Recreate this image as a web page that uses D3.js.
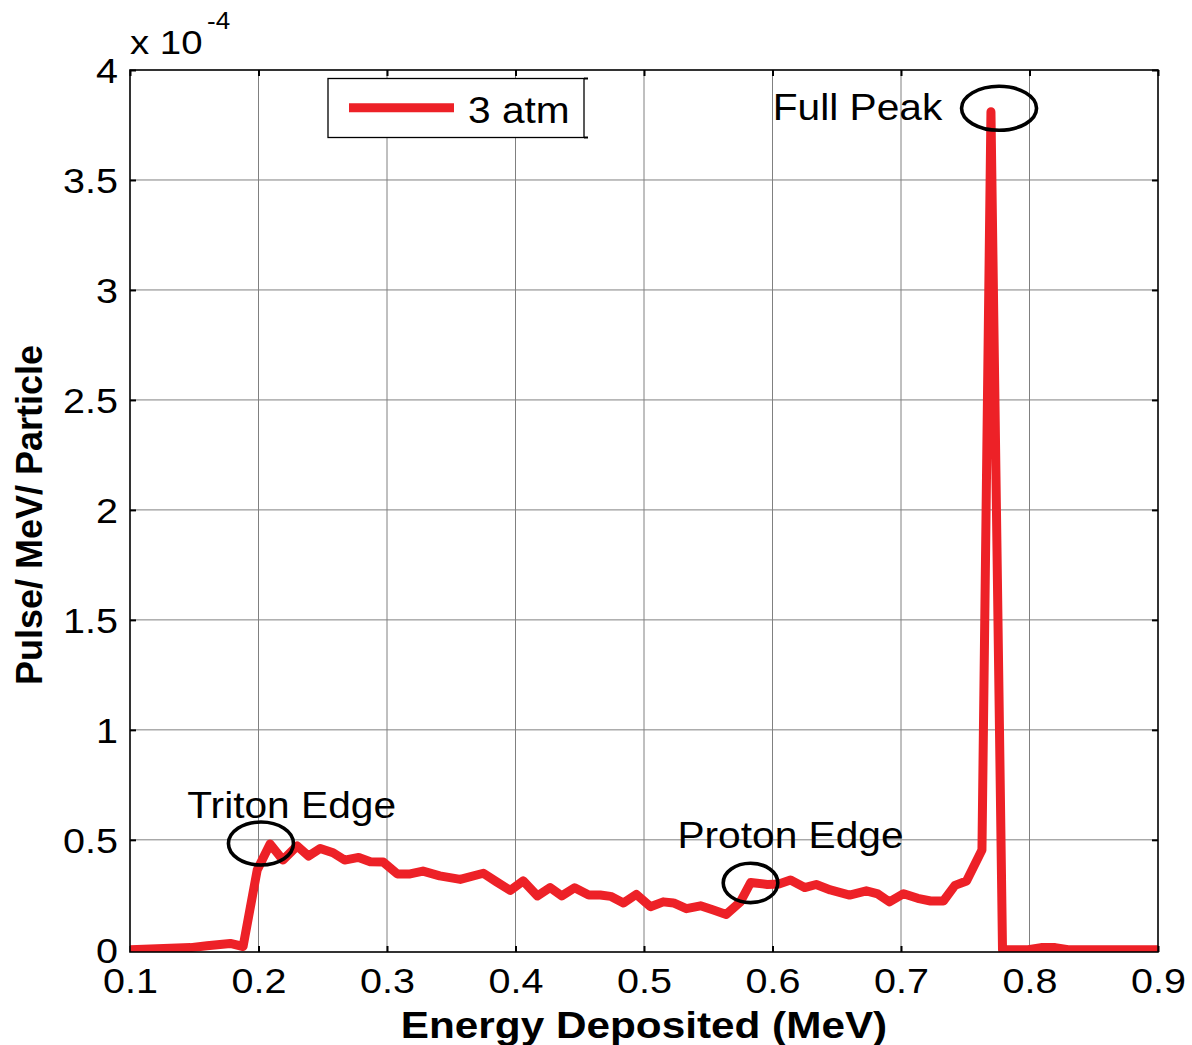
<!DOCTYPE html>
<html>
<head>
<meta charset="utf-8">
<script src="https://cdn.jsdelivr.net/npm/d3@7"></script>
<style>
  html, body { margin: 0; padding: 0; background: #fff; }
  svg { display: block; }
  text { font-family: "Liberation Sans", Arial, sans-serif; fill: #000; }
</style>
</head>
<body>
<svg id="chart" width="1192" height="1045"></svg>
<script>
// ---- data ----
const energy = [0.100, 0.147, 0.160, 0.178, 0.188, 0.199, 0.209, 0.219, 0.230, 0.239,
  0.248, 0.258, 0.267, 0.278, 0.287, 0.297, 0.308, 0.318, 0.328, 0.341,
  0.357, 0.375, 0.385, 0.396, 0.406, 0.417, 0.427, 0.436, 0.446, 0.457,
  0.466, 0.474, 0.484, 0.494, 0.505, 0.515, 0.523, 0.533, 0.544, 0.554,
  0.564, 0.575, 0.583, 0.596, 0.605, 0.614, 0.625, 0.634, 0.645, 0.660,
  0.673, 0.682, 0.691, 0.702, 0.713, 0.723, 0.733, 0.742, 0.751, 0.763,
  0.770, 0.779, 0.789, 0.799, 0.809, 0.820, 0.830, 0.900];
const pulse3atm = [0, 0.01, 0.018, 0.029, 0.015, 0.363, 0.481, 0.408, 0.472, 0.426,
  0.461, 0.441, 0.408, 0.420, 0.400, 0.399, 0.345, 0.345, 0.358, 0.336,
  0.320, 0.348, 0.310, 0.270, 0.313, 0.245, 0.283, 0.245, 0.282, 0.249,
  0.249, 0.243, 0.213, 0.252, 0.196, 0.218, 0.213, 0.187, 0.200, 0.181,
  0.161, 0.218, 0.306, 0.297, 0.299, 0.317, 0.283, 0.297, 0.272, 0.249,
  0.268, 0.254, 0.218, 0.255, 0.234, 0.222, 0.222, 0.293, 0.313, 0.454,
  3.810, 0, 0, 0, 0.01, 0.01, 0, 0];   // units of 1e-4
const xTicks = [0.1, 0.2, 0.3, 0.4, 0.5, 0.6, 0.7, 0.8, 0.9];
const yTicks = [0, 0.5, 1, 1.5, 2, 2.5, 3, 3.5, 4];
const seriesName = "3 atm";
const annLabels = ["Triton Edge", "Proton Edge", "Full Peak"];
const annTextE = [0.2258, 0.614, 0.6661];
const annTextV = [0.600, 0.461, 3.772];
const annCircE = [0.2019, 0.5829, 0.7763];
const annCircV = [0.483, 0.304, 3.826];

// ---- layout ----
const L = 130, R = 1158, T = 70, B = 952;
const SX = 1.13; // horizontal stretch of glyphs in the reference
const svg = d3.select("#chart");
const x = d3.scaleLinear().domain([0.1, 0.9]).range([L, R]);
const y = d3.scaleLinear().domain([-0.01, 4]).range([B, T]);
const red = "#ed2127";

// grid
const grid = svg.append("g").attr("stroke", "#808080").attr("stroke-width", 1);
grid.selectAll("line.gx").data(xTicks.slice(1, -1)).join("line")
  .attr("x1", d => x(d)).attr("x2", d => x(d)).attr("y1", T).attr("y2", B);
grid.selectAll("line.gy").data(yTicks.slice(1, -1)).join("line")
  .attr("y1", d => y(d)).attr("y2", d => y(d)).attr("x1", L).attr("x2", R);

// axes (ticks inward)
const fmt = d => d3.format("")(d);
const ax = svg.append("g").attr("transform", `translate(0,${B})`)
  .call(d3.axisBottom(x).tickValues(xTicks).tickSize(-6).tickPadding(16).tickFormat(fmt));
const ay = svg.append("g").attr("transform", `translate(${L},0)`)
  .call(d3.axisLeft(y).tickValues(yTicks).tickSize(-6).tickPadding(12).tickFormat(fmt));
const axTop = svg.append("g").attr("transform", `translate(0,${T})`)
  .call(d3.axisTop(x).tickValues(xTicks).tickSize(-6).tickFormat(""));
const ayRight = svg.append("g").attr("transform", `translate(${R},0)`)
  .call(d3.axisRight(y).tickValues(yTicks).tickSize(-6).tickFormat(""));
[ax, ay, axTop, ayRight].forEach(g => {
  g.select(".domain").remove();
  g.selectAll(".tick line").attr("stroke", "#000").attr("stroke-width", 2);
});
ax.selectAll(".tick text").attr("font-size", 35)
  .attr("font-family", "Liberation Sans, Arial, sans-serif")
  .attr("transform", `scale(${SX},1)`);
ay.selectAll(".tick text").attr("font-size", 35)
  .attr("font-family", "Liberation Sans, Arial, sans-serif")
  .attr("x", -12 / SX).attr("dy", "0.36em")
  .attr("transform", `scale(${SX},1)`);

// data line, clipped to the axes
svg.append("clipPath").attr("id", "clip").append("rect")
  .attr("x", L).attr("y", T).attr("width", R - L).attr("height", B - T);
const pts = energy.map((e, i) => [e, pulse3atm[i]]);
svg.append("path").datum(pts)
  .attr("clip-path", "url(#clip)")
  .attr("fill", "none").attr("stroke", red).attr("stroke-width", 9)
  .attr("stroke-linejoin", "round").attr("stroke-linecap", "round")
  .attr("d", d3.line().x(d => x(d[0])).y(d => y(d[1])));

// box
svg.append("rect").attr("x", L).attr("y", T).attr("width", R - L).attr("height", B - T)
  .attr("fill", "none").attr("stroke", "#000").attr("stroke-width", 1.6);

// helper for stretched text
function sText(px, py, str, size, anchor, weight, sx) {
  return svg.append("text")
    .attr("transform", `translate(${px},${py}) scale(${sx || SX},1)`)
    .attr("text-anchor", anchor || "start")
    .attr("font-size", size)
    .attr("font-weight", weight || "normal")
    .text(str);
}

// annotations
const ellR = [[32.5, 21.5], [27.3, 19.7], [37.5, 22]];
annLabels.forEach((lab, i) => {
  sText(x(annTextE[i]), y(annTextV[i]), lab, 36, "middle");
  svg.append("ellipse")
    .attr("cx", x(annCircE[i])).attr("cy", y(annCircV[i]))
    .attr("rx", ellR[i][0]).attr("ry", ellR[i][1])
    .attr("fill", "none").attr("stroke", "#000").attr("stroke-width", 3.6);
});

// exponent label
sText(L, 54, "x 10", 34, "start");
sText(207, 29, "-4", 23, "start");

// legend
const lg = svg.append("g");
lg.append("rect").attr("x", 328).attr("y", 78.5).attr("width", 256).attr("height", 59)
  .attr("fill", "#fff").attr("stroke", "#000").attr("stroke-width", 1.3);
lg.append("path").attr("d", "M584,78.5 h4 M584,137.5 h4").attr("stroke", "#000").attr("stroke-width", 2);
lg.append("line").attr("x1", 349).attr("x2", 454).attr("y1", 107.7).attr("y2", 107.7)
  .attr("stroke", red).attr("stroke-width", 9);
sText(468, 123, seriesName, 36, "start");

// axis titles
sText((L + R) / 2, 1038, "Energy Deposited (MeV)", 36, "middle", "bold", 1.175);
svg.append("text")
  .attr("transform", `translate(42,515) rotate(-90)`)
  .attr("text-anchor", "middle").attr("font-size", 36).attr("font-weight", "bold")
  .text("Pulse/ MeV/ Particle");
</script>
</body>
</html>
